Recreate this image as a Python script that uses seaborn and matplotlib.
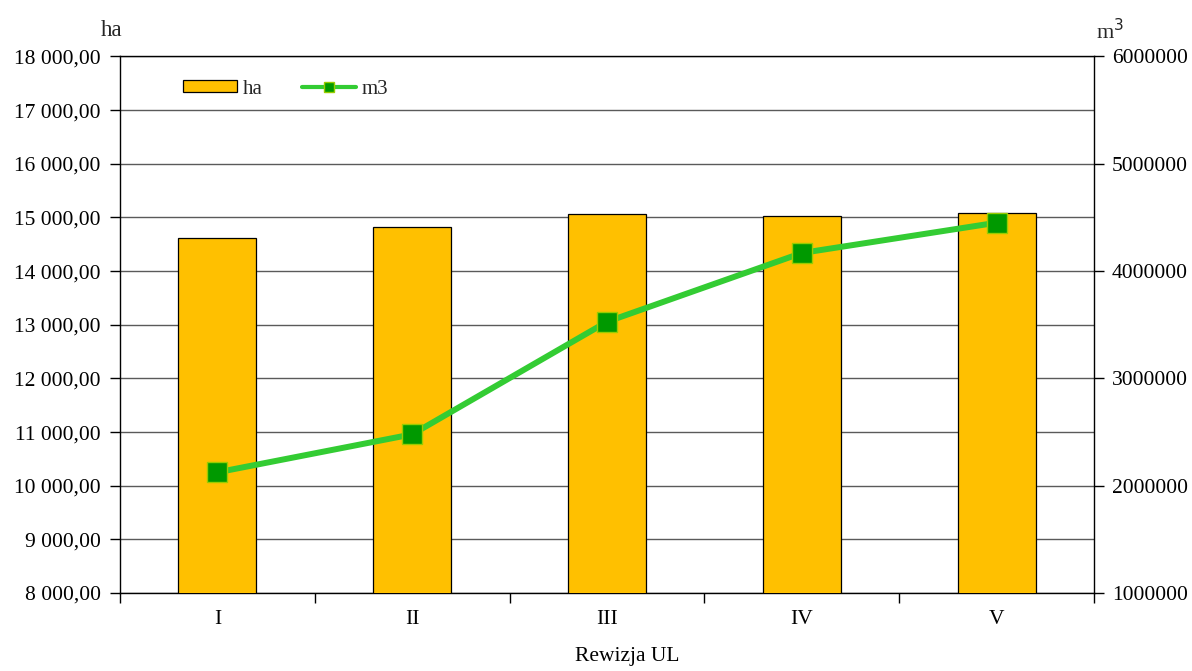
import numpy as np
import matplotlib
matplotlib.use("Agg")
import matplotlib.pyplot as plt
from matplotlib.ticker import FuncFormatter, MultipleLocator, FixedLocator
from matplotlib.patches import Patch
from matplotlib.lines import Line2D
import seaborn as sns

# Revision periods and measured quantities
revisions = ["I", "II", "III", "IV", "V"]
area_ha = [14620, 14830, 15060, 15020, 15080]
volume_m3 = [2125000, 2479000, 3528000, 4169000, 4451000]

sns.set_theme(style="white")
plt.rcParams["font.family"] = ["Liberation Serif", "DejaVu Serif"]
plt.rcParams["axes.unicode_minus"] = False

BAR_COLOR = "#FFC000"
LINE_COLOR = "#33CC33"
MARKER_COLOR = "#009900"
MARKER_EDGE = "#99CC00"
FS = 15.5

fig = plt.figure(figsize=(11.92, 6.71), dpi=100)
ax = fig.add_axes([0.1007, 0.1162, 0.9178 - 0.1007, 0.9158 - 0.1162])

sns.barplot(x=revisions, y=area_ha, ax=ax, color=BAR_COLOR, width=0.4,
            edgecolor="black", linewidth=0.9, saturation=1.0, zorder=3)

ax.set_ylim(8000, 18000)
ax.set_xlim(-0.5, len(revisions) - 0.5)
ax.yaxis.set_major_locator(MultipleLocator(1000))


def pl_fmt(v, _):
    s = f"{v:,.2f}"
    return s.replace(",", " ").replace(".", ",")


ax.yaxis.set_major_formatter(FuncFormatter(pl_fmt))
ax.yaxis.grid(True, color="#5a5a5a", linewidth=1.0, zorder=0)
ax.set_axisbelow(True)

# Category ticks sit between bars; labels centred under bars
ax.xaxis.set_major_locator(FixedLocator(np.arange(-0.5, len(revisions), 1.0)))
ax.xaxis.set_major_formatter(FuncFormatter(lambda v, _: ""))
ax.xaxis.set_minor_locator(FixedLocator(np.arange(len(revisions))))
ax.set_xticklabels(revisions, minor=True)
ax.tick_params(axis="x", which="major", direction="out", length=7, width=1,
               color="black", bottom=True)
ax.tick_params(axis="x", which="minor", length=0, labelsize=FS, pad=12.5,
               labelcolor="black")
ax.tick_params(axis="y", direction="out", length=7, width=1, color="black",
               left=True, labelsize=FS, labelcolor="black", pad=7)

for side in ["left", "bottom", "top"]:
    ax.spines[side].set_visible(True)
    ax.spines[side].set_color("black")
    ax.spines[side].set_linewidth(1.0)
ax.spines["right"].set_visible(False)

ax.set_xlabel("Rewizja UL", fontsize=FS, color="black")
ax.xaxis.set_label_coords(0.5205, -0.1185)
ax.xaxis.label.set_va("center")
ax.set_ylabel("")

# Secondary axis for timber volume
ax2 = ax.twinx()
sns.lineplot(x=np.arange(len(revisions)), y=volume_m3, ax=ax2, color=LINE_COLOR,
             linewidth=4.3, marker="s", markersize=14.5,
             markerfacecolor=MARKER_COLOR, markeredgecolor=MARKER_EDGE,
             markeredgewidth=1, zorder=5)
ax2.set_ylim(1000000, 6000000)
ax2.yaxis.set_major_locator(MultipleLocator(1000000))
ax2.yaxis.set_major_formatter(FuncFormatter(lambda v, _: f"{int(round(v))}"))
ax2.tick_params(axis="y", direction="out", length=7, width=1, color="black",
                right=True, labelsize=FS, labelcolor="black", pad=6)
ax2.set_ylabel("")
ax2.grid(False)
for side in ["left", "bottom", "top"]:
    ax2.spines[side].set_visible(False)
ax2.spines["right"].set_visible(True)
ax2.spines["right"].set_color("black")
ax2.spines["right"].set_linewidth(1.0)
ax2.set_xlim(-0.5, len(revisions) - 0.5)

# Axis unit captions
fig.text(112 / 1192, 1 - 30 / 671, "ha", fontsize=16.5, ha="center", va="center")
fig.text(1110 / 1192, 1 - 32 / 671, "m$^3$", fontsize=16, ha="center", va="center")

handles = [
    Patch(facecolor=BAR_COLOR, edgecolor="black", linewidth=0.9, label="ha"),
    Line2D([0], [0], color=LINE_COLOR, linewidth=3, marker="s", markersize=7,
           markerfacecolor=MARKER_COLOR, markeredgecolor=MARKER_EDGE, label="m3"),
]
ax2.legend(handles=handles, loc="upper left", bbox_to_anchor=(0.0647, 0.957),
           ncol=2, frameon=False, fontsize=15, handlelength=2.6,
           handleheight=0.5, handletextpad=0.25, columnspacing=1.9,
           borderpad=0, borderaxespad=0)

fig.savefig("out.png", dpi=100)
